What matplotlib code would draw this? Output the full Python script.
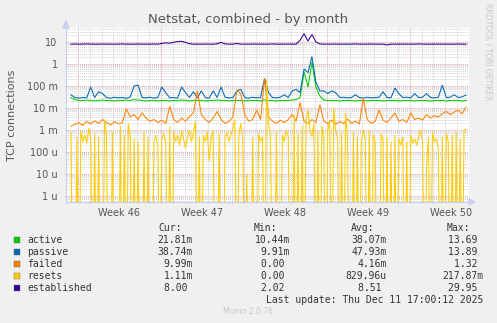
import matplotlib
matplotlib.use("Agg")
import matplotlib.pyplot as plt
import matplotlib.transforms as mtransforms
import numpy as np

W, H = 497, 323

# serie principal: una muestra cada 8 horas (dias desde el inicio)
established = [8.0, 8.1, 8.0, 8.0, 8.2, 8.0, 8.0, 8.0, 8.1, 8.0,
               8.0, 8.0, 8.0, 8.2, 8.0, 8.0, 8.0, 8.1, 8.0, 8.0,
               8.0, 8.1, 8.0, 8.6, 9.2, 8.8, 9.8, 10.5, 10.8, 9.6,
               8.4, 8.0, 8.0, 8.0, 8.1, 8.0, 8.0, 8.3, 9.6, 8.2,
               8.0, 8.0, 8.6, 8.0, 8.0, 8.0, 8.1, 8.0, 8.0, 8.0,
               8.0, 8.2, 8.0, 8.0, 8.0, 8.1, 8.0, 8.0, 12.0, 24.0,
               11.0, 22.0, 10.0, 8.2, 8.0, 8.0, 8.0, 8.1, 8.0, 8.0,
               8.0, 8.0, 8.2, 8.0, 8.0, 8.0, 8.1, 8.0, 8.0, 8.0,
               7.4, 8.0, 8.0, 8.0, 8.1, 8.0, 8.0, 8.0, 8.2, 8.0,
               8.0, 8.0, 8.0, 8.1, 8.0, 8.0, 8.0, 8.0, 8.1, 8.0,
               8.0]
active = [0.030, 0.024, 0.022, 0.022, 0.023, 0.022, 0.021, 0.022, 0.023, 0.022,
          0.022, 0.021, 0.022, 0.022, 0.023, 0.022, 0.024, 0.023, 0.022, 0.021,
          0.022, 0.022, 0.021, 0.022, 0.022, 0.021, 0.022, 0.022, 0.023, 0.022,
          0.021, 0.022, 0.022, 0.022, 0.021, 0.022, 0.022, 0.023, 0.022, 0.022,
          0.021, 0.022, 0.022, 0.022, 0.021, 0.022, 0.022, 0.022, 0.021, 0.023,
          0.022, 0.022, 0.021, 0.022, 0.022, 0.022, 0.023, 0.024, 0.030, 0.45,
          0.09, 1.2, 0.09, 0.035, 0.023, 0.022, 0.022, 0.022, 0.021, 0.022,
          0.022, 0.022, 0.021, 0.022, 0.022, 0.021, 0.022, 0.022, 0.022, 0.021,
          0.022, 0.022, 0.022, 0.021, 0.022, 0.022, 0.022, 0.021, 0.022, 0.022,
          0.022, 0.021, 0.022, 0.022, 0.022, 0.021, 0.022, 0.022, 0.022, 0.021,
          0.022]
passive = [0.040, 0.030, 0.028, 0.030, 0.029, 0.090, 0.030, 0.055, 0.045, 0.030,
           0.028, 0.031, 0.029, 0.030, 0.028, 0.032, 0.100, 0.110, 0.030, 0.029,
           0.031, 0.028, 0.030, 0.090, 0.050, 0.029, 0.030, 0.028, 0.090, 0.050,
           0.030, 0.055, 0.029, 0.060, 0.030, 0.028, 0.060, 0.030, 0.090, 0.031,
           0.029, 0.030, 0.060, 0.070, 0.030, 0.028, 0.031, 0.029, 0.030, 0.220,
           0.050, 0.030, 0.029, 0.031, 0.040, 0.030, 0.060, 0.070, 0.050, 0.60,
           0.40, 2.2, 0.15, 0.060, 0.060, 0.045, 0.060, 0.050, 0.030, 0.031,
           0.029, 0.030, 0.040, 0.030, 0.028, 0.031, 0.029, 0.030, 0.031, 0.055,
           0.030, 0.029, 0.080, 0.045, 0.030, 0.031, 0.029, 0.045, 0.030, 0.031,
           0.045, 0.030, 0.029, 0.031, 0.110, 0.030, 0.031, 0.040, 0.030, 0.032,
           0.039]
failed_milli = [1.5, 1.8, 2.2, 1.6, 2.5, 1.9, 2.6, 2.0, 3.0, 2.2,
                1.7, 2.4, 1.9, 2.1, 9.0, 4.0, 5.0, 3.0, 6.0, 3.5,
                2.5, 3.0, 2.2, 2.8, 2.0, 12.0, 3.0, 2.2, 3.5, 2.5,
                4.0, 6.0, 60.0, 5.0, 3.0, 2.2, 3.5, 7.0, 3.0, 2.0,
                2.5, 4.0, 60.0, 45.0, 5.0, 2.5, 3.0, 8.0, 3.0, 220.0,
                4.0, 2.5, 2.0, 2.8, 2.2, 3.0, 5.0, 2.5, 18.0, 2.5,
                2.0, 3.0, 2.2, 14.0, 2.5, 2.0, 2.8, 1.8, 2.4, 2.0,
                3.2, 2.0, 2.5, 1.9, 28.0, 3.0, 2.0, 2.5, 8.0, 2.8,
                2.2, 3.5, 6.0, 2.5, 3.0, 2.2, 6.0, 3.0, 3.5, 2.8,
                5.0, 3.5, 4.5, 3.8, 5.5, 7.0, 5.0, 6.5, 8.0, 5.5,
                11.0]

# resets: una muestra cada 4 horas
resets_milli = [0.8, 0, 0, 0.5, 0, 0.9, 0.3, 0.6, 0.25, 1.2,
                0.4, 0, 0.7, 0, 0.5, 0, 0, 3.0, 0.6, 0,
                0, 0.8, 0, 0, 0, 1.5, 0, 0.6, 0, 2.0,
                0.5, 0, 0.4, 0, 0.3, 0, 0, 0.8, 0, 0.5,
                0, 0, 0.3, 0.6, 0.2, 0, 0.4, 0.7, 0.25, 0,
                1.5, 0, 0.8, 0.3, 0.6, 0.2, 0.9, 0.4, 0.15, 0.5,
                1.0, 0.3, 0.7, 2.5, 0, 0.5, 0, 0.6, 0.3, 0.8,
                0.04, 0.5, 0.9, 0, 0, 0.7, 0, 0, 0.5, 0.8,
                0.3, 0.6, 1.2, 3.0, 0, 0.6, 2.0, 0.4, 0, 0.01,
                0, 0, 0.5, 0, 0, 0.7, 0.3, 0.5, 0, 200.0,
                2.0, 0.5, 0, 0, 0.8, 0, 0, 0.6, 0.3, 1.0,
                0.5, 0, 0, 5.0, 0, 0.7, 0, 1.5, 0, 3.0,
                8.0, 1.0, 0.5, 2.0, 0, 0.8, 0, 1.5, 0.4, 0,
                0.9, 3.0, 0, 10.0, 1.0, 0.4, 0, 0.7, 0, 6.0,
                0.5, 0, 0, 0.8, 0, 0.5, 0, 0.3, 1.0, 0.4,
                0, 0.9, 0, 0.6, 0.3, 0, 0, 0.7, 0.4, 0,
                0.5, 0, 0.3, 0, 0.6, 0, 0.4, 0.2, 0.5, 0,
                0.3, 0, 0.6, 0.25, 0.4, 0.2, 0.5, 1.0, 0.3, 0,
                0.02, 0.5, 0, 0.8, 0.3, 0.4, 0.15, 0, 0.5, 0,
                0.7, 0.3, 0, 0.6, 0, 0.8, 0, 0.4, 0, 1.0,
                1.11]

week_labels = ["Week 46", "Week 47", "Week 48", "Week 49", "Week 50"]

names = ["active", "passive", "failed", "resets", "established"]
colores = ["#00CC00", "#0066B3", "#FF8000", "#FFCC00", "#330099"]
cur = ["21.81m", "38.74m", "9.99m", "1.11m", "8.00 "]
mins = ["10.44m", "9.91m", "0.00 ", "0.00 ", "2.02 "]
avgs = ["38.07m", "47.93m", "4.16m", "829.96u", "8.51 "]
maxs = ["13.69 ", "13.89 ", "1.32 ", "217.87m", "29.95 "]

t8 = np.arange(len(active)) / 3.0
t4 = np.arange(len(resets_milli)) / 6.0
failed = np.array(failed_milli) * 1e-3
resets = np.array(resets_milli) * 1e-3
resets = np.where(resets <= 0, 1e-12, resets)  # ceros -> fondo del grafico

fig = plt.figure(figsize=(W / 100, H / 100), dpi=100, facecolor="#F0F0F0")
ax = fig.add_axes([66 / W, (H - 202) / H, 403 / W, 174 / H], facecolor="white")

ax.set_yscale("log")
ax.set_ylim(10 ** ((64 - 202) / 22), 10 ** ((64 - 28) / 22))
ax.set_xlim(0, 403 / 12)

series = [active, passive, failed, resets, established]
tiempos = [t8, t8, t8, t4, t8]
for t, s, c in zip(tiempos, series, colores):
    ax.plot(t, s, color=c, lw=0.75, solid_joinstyle="miter")

# rejilla estilo rrdtool
semanas = 0.583 + 7 * np.arange(5)
dias = 0.583 + np.arange(-1, 34)
ax.set_xticks(semanas)
ax.set_xticks(dias, minor=True)
ax.set_xticklabels([])
ax.set_yticks([1e-6, 1e-5, 1e-4, 1e-3, 1e-2, 1e-1, 1, 10])
ax.set_yticklabels(["1 u", "10 u", "100 u", "1 m", "10 m", "100 m", "1", "10"])
ax.grid(True, which="major", color="#E8A0A0", lw=0.7, linestyle=(0, (1, 1)))
ax.grid(True, which="minor", color="#D4D4D4", lw=0.7, linestyle=(0, (1, 1)))
ax.tick_params(axis="both", which="both", length=2, width=0.6, color="#B0B0B0",
               labelsize=7, labelcolor="#555555", direction="inout")
ax.tick_params(axis="x", which="major", color="#E08080")
ax.tick_params(axis="y", which="minor", length=0)
ax.tick_params(axis="y", pad=5)
for lado in ["top", "right"]:
    ax.spines[lado].set_visible(False)
for lado in ["left", "bottom"]:
    ax.spines[lado].set_color("#C8D0F0")
    ax.spines[lado].set_linewidth(0.8)

trans = mtransforms.blended_transform_factory(ax.transData, ax.transAxes)
for x, lab in zip(semanas + 3.5, week_labels):
    ax.text(x, -0.065, lab, transform=trans, ha="center", va="center",
            fontsize=7, color="#555555")

# flechas de los ejes
fig.patches.append(plt.Polygon([[63 / W, 1 - 28 / H], [69 / W, 1 - 28 / H], [66 / W, 1 - 21 / H]],
                               closed=True, transform=fig.transFigure, color="#C8D0F0"))
fig.patches.append(plt.Polygon([[469 / W, 1 - 199 / H], [469 / W, 1 - 205 / H], [475 / W, 1 - 202 / H]],
                               closed=True, transform=fig.transFigure, color="#C8D0F0"))

def px(x, y):
    return x / W, 1 - y / H

fig.text(*px(248, 19), "Netstat, combined - by month", ha="center", va="center",
         fontsize=9.5, color="#555555")
fig.text(*px(12, 115), "TCP connections", rotation=90, ha="center", va="center",
         fontsize=8, color="#555555")
fig.text(*px(488, 52), "RRDTOOL / TOBI OETIKER", rotation=270, ha="center", va="center",
         fontsize=5.5, color="#C8C8C8")

mono = "DejaVu Sans Mono"
for x, h in zip([158, 254, 351, 447], ["Cur:", "Min:", "Avg:", "Max:"]):
    fig.text(*px(x, 228), h, ha="left", va="center", fontsize=7, family=mono, color="#333333")

filas = [240, 252, 264, 276, 288]
for i, y in enumerate(filas):
    fig.patches.append(plt.Rectangle(px(14, y + 3), 6 / W, 6 / H, transform=fig.transFigure,
                                     facecolor=colores[i], edgecolor="#666666", lw=0.3))
    fig.text(*px(27, y), names[i], ha="left", va="center", fontsize=7, family=mono, color="#333333")
    for x, col in zip([193, 290, 387, 483], [cur, mins, avgs, maxs]):
        fig.text(*px(x, y), col[i], ha="right", va="center", fontsize=7, family=mono, color="#333333")

fig.text(*px(483, 300), "Last update: Thu Dec 11 17:00:12 2025", ha="right", va="center",
         fontsize=7, family=mono, color="#333333")
fig.text(*px(248, 312), "Munin 2.0.76", ha="center", va="center", fontsize=5.5, color="#C8C8C8")

fig.savefig("out.png", dpi=100, facecolor=fig.get_facecolor())
